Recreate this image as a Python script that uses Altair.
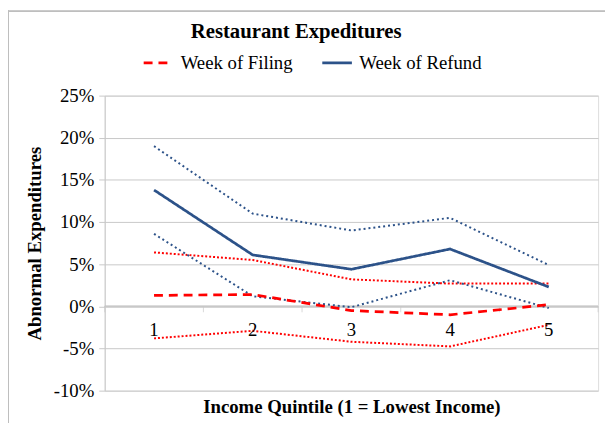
import altair as alt
import pandas as pd

quintiles = [1, 2, 3, 4, 5]
filing = [1.3, 1.4, -0.5, -1.0, 0.2]
filing_upper = [6.4, 5.5, 3.2, 2.7, 2.7]
filing_lower = [-3.8, -2.9, -4.2, -4.75, -2.2]
refund = [13.8, 6.1, 4.4, 6.8, 2.3]
refund_upper = [19.0, 11.0, 9.0, 10.5, 4.9]
refund_lower = [8.6, 1.2, -0.1, 3.1, -0.2]
y_ticks = [-10, -5, 0, 5, 10, 15, 20, 25]
x_bounds = [0.5, 1.5, 2.5, 3.5, 4.5, 5.5]
chart_title = ["Restaurant Expeditures"]

RED = "#ff0000"
BLUE = "#2c5289"
GRID = "#c8c8c8"
FONT = "Liberation Serif, Times New Roman, serif"

main = pd.DataFrame({
    "q": quintiles * 2,
    "v": filing + refund,
    "series": ["Week of Filing"] * 5 + ["Week of Refund"] * 5,
})
red_b = pd.DataFrame({
    "q": quintiles * 2,
    "v": filing_upper + filing_lower,
    "b": ["u"] * 5 + ["l"] * 5,
})
blue_b = pd.DataFrame({
    "q": quintiles * 2,
    "v": refund_upper + refund_lower,
    "b": ["u"] * 5 + ["l"] * 5,
})
qdf = pd.DataFrame({"q": quintiles, "zero": [0] * 5})
bdf = pd.DataFrame({"q": x_bounds, "zero": [0] * 6})
tdf = pd.DataFrame({"t": chart_title})

xs = alt.Scale(domain=[0.5, 5.5], nice=False, zero=False)
ys = alt.Scale(domain=[-10, 25], nice=False, zero=False)

x_axis = alt.Axis(labels=False, ticks=False, domain=False, grid=False,
                  title="Income Quintile (1 = Lowest Income)",
                  titleFont=FONT, titleFontSize=19, titleFontWeight="bold",
                  titleColor="black", titlePadding=7)
y_axis = alt.Axis(values=y_ticks, labelExpr="datum.value + '%'",
                  labelFont=FONT, labelFontSize=19, labelColor="black",
                  labelPadding=5, tickSize=6, tickColor=GRID, domainColor=GRID,
                  gridColor=GRID, grid=True,
                  title="Abnormal Expenditures", titleFont=FONT,
                  titleFontSize=19, titleFontWeight="bold", titleColor="black",
                  titlePadding=9)

base_x = alt.X("q:Q", scale=xs, axis=x_axis)
base_y = alt.Y("v:Q", scale=ys, axis=y_axis)

zero_rule = alt.Chart(qdf).mark_rule(color=GRID, strokeWidth=1).encode(
    y=alt.Y("zero:Q", scale=ys), x=alt.value(0), x2=alt.value(500)
)
zero_ticks = alt.Chart(bdf).mark_tick(orient="vertical", size=6, yOffset=3,
                                      color=GRID, thickness=1).encode(
    x=alt.X("q:Q", scale=xs), y=alt.Y("zero:Q", scale=ys)
)
x_labels = alt.Chart(qdf).mark_text(font=FONT, fontSize=19, color="black",
                                    baseline="middle", dy=24).encode(
    x=alt.X("q:Q", scale=xs), y=alt.Y("zero:Q", scale=ys),
    text=alt.Text("q:Q")
)

red_lines = alt.Chart(red_b).mark_line(color=RED, strokeWidth=2,
                                       strokeDash=[2, 2]).encode(
    x=base_x, y=base_y, detail="b:N"
)
blue_lines = alt.Chart(blue_b).mark_line(color=BLUE, strokeWidth=2,
                                         strokeDash=[2, 3]).encode(
    x=alt.X("q:Q", scale=xs), y=alt.Y("v:Q", scale=ys), detail="b:N"
)

legend = alt.Legend(orient="none", legendX=38, legendY=-50,
                    direction="horizontal", title=None,
                    symbolType="stroke", symbolSize=900,
                    symbolStrokeWidth=2.75,
                    labelFont=FONT, labelFontSize=19,
                    labelColor="black", labelOffset=6,
                    columnPadding=24)
series_domain = ["Week of Filing", "Week of Refund"]
main_lines = alt.Chart(main).mark_line(strokeWidth=2.75).encode(
    x=alt.X("q:Q", scale=xs),
    y=alt.Y("v:Q", scale=ys),
    color=alt.Color("series:N",
                    scale=alt.Scale(domain=series_domain, range=[RED, BLUE]),
                    legend=legend),
    strokeDash=alt.StrokeDash("series:N",
                              scale=alt.Scale(domain=series_domain,
                                              range=[[9, 6], [1, 0]]),
                              legend=legend),
)

title_text = alt.Chart(tdf).mark_text(font=FONT, fontSize=21, fontWeight="bold",
                                      color="black", align="center",
                                      baseline="middle").encode(
    text="t:N", x=alt.value(194), y=alt.value(-64)
)

border_left = alt.Chart(qdf).mark_rule(color="#bfbfbf", strokeWidth=1).encode(
    x=alt.value(-97.5), y=alt.value(-86), y2=alt.value(340)
)
border_top = alt.Chart(qdf).mark_rule(color="#bfbfbf", strokeWidth=1).encode(
    x=alt.value(-98), x2=alt.value(510), y=alt.value(-85.5)
)

chart = alt.layer(
    red_lines, zero_rule, zero_ticks, x_labels, blue_lines, main_lines,
    title_text, border_left, border_top
).properties(
    width=500, height=299,
    autosize=alt.AutoSizeParams(type="none"),
    padding={"left": 98, "top": 86, "right": 7, "bottom": 30},
).configure_view(stroke=None).configure(background="white")

chart.save("out.html", embed_options={"renderer": "svg", "actions": False})
